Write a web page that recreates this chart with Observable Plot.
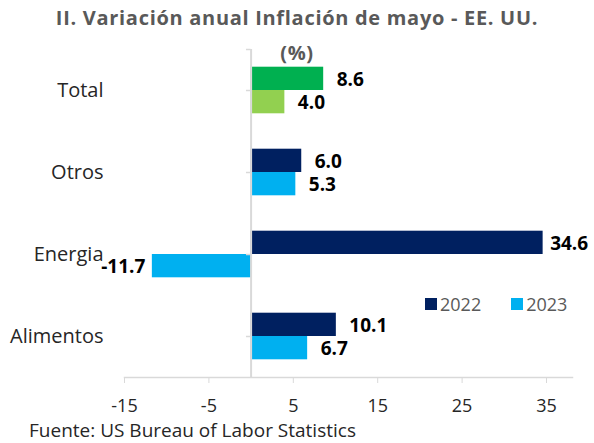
<!DOCTYPE html>
<html>
<head>
<meta charset="utf-8">
<script src="https://cdn.jsdelivr.net/npm/d3@7"></script>
<script src="https://cdn.jsdelivr.net/npm/@observablehq/plot@0.6"></script>
<style>
  html, body { margin: 0; padding: 0; background: #fff; }
  #wrap { position: relative; width: 594px; height: 443px; font-family: "Open Sans", Lato, sans-serif; overflow: hidden; }
  #chart { position: absolute; left: 0; top: 0; }
  .title { position: absolute; left: 0; width: 594px; text-align: center; font-weight: bold; font-size: 20px; color: #595959; white-space: nowrap; letter-spacing: 0.7px; line-height: 1; }
  #legend { position: absolute; left: 425px; top: 295px; display: flex; align-items: center; font-size: 18px; color: #595959; line-height: 1; }
  #legend .sw { width: 12px; height: 12px; display: inline-block; margin-right: 3px; }
  #legend .item { display: flex; align-items: center; margin-right: 30px; }
  #footer { position: absolute; left: 29px; top: 421px; font-size: 19px; color: #262626; white-space: nowrap; line-height: 1; }
</style>
</head>
<body>
<div id="wrap">
  <div id="chart"></div>
  <div class="title" id="t1" style="top:8px">II. Variación anual Inflación de mayo - EE. UU.</div>
  <div class="title" id="t2" style="top:43px">(%)</div>
  <div id="legend"></div>
  <div id="footer">Fuente: US Bureau of Labor Statistics</div>
</div>
<script>
// ---- data ----
const categories = ["Total", "Otros", "Energia", "Alimentos"];
const years = ["2022", "2023"];
const values2022 = [8.6, 6.0, 34.6, 10.1];
const values2023 = [4.0, 5.3, -11.7, 6.7];
const xTicks = [-15, -5, 5, 15, 25, 35];

// ---- styles ----
const seriesColors = {"2022": "#002060", "2023": "#00B0F0"};
const totalColors = {"2022": "#00B050", "2023": "#92D050"};
const axisGray = "#d9d9d9";

const W = 594, H = 443, mt = 49, mb = 66, ml = 124, mr = 22;
const step = (H - mt - mb) / categories.length;
const barH = 23.3;

const rows = categories.flatMap((c, i) => [
  {category: c, year: "2022", value: values2022[i]},
  {category: c, year: "2023", value: values2023[i]}
]);
const fillOf = d => (d.category === "Total" ? totalColors : seriesColors)[d.year];

const insets = {
  "2022": {insetTop: step / 2 - barH, insetBottom: step / 2},
  "2023": {insetTop: step / 2, insetBottom: step / 2 - barH}
};
const offs = {"2022": -barH / 2, "2023": barH / 2};

const labelStyle = {fontSize: 19, fontWeight: "bold", fill: "#000"};

const marks = [
  Plot.frame({anchor: "bottom", stroke: axisGray, strokeWidth: 1.5}),
  Plot.axisX({ticks: xTicks, tickSize: 6, tickPadding: 16, fontSize: 18, stroke: axisGray, tickFormat: d => String(d), label: null}),
  Plot.axisY({tickSize: 0, tickPadding: 21, fontSize: 20, label: null}),
];
for (const yr of years) {
  const sub = rows.filter(d => d.year === yr);
  marks.push(Plot.barX(sub, {x: "value", y: "category", fill: fillOf, ...insets[yr]}));
}
marks.push(
  Plot.ruleX([0], {stroke: axisGray, strokeWidth: 2}),
  Plot.ruleY(categories, {y: d => d, x1: 0, x2: -0.55, stroke: axisGray, strokeWidth: 1.5}),
  Plot.ruleY([categories[0]], {y: d => d, x1: 0, x2: -0.55, dy: -step / 2, stroke: axisGray, strokeWidth: 1.5})
);
for (const yr of years) {
  const sub = rows.filter(d => d.year === yr);
  marks.push(
    Plot.text(sub.filter(d => d.value >= 0 && d.value < 30), {x: "value", y: "category", text: d => d.value.toFixed(1), dx: 13, dy: offs[yr] + 1, textAnchor: "start", ...labelStyle}),
    Plot.text(sub.filter(d => d.value >= 30), {x: "value", y: "category", text: d => d.value.toFixed(1), dx: 7, dy: offs[yr] + 1, textAnchor: "start", ...labelStyle}),
    Plot.text(sub.filter(d => d.value < 0), {x: "value", y: "category", text: d => d.value.toFixed(1), dx: -7, dy: offs[yr] + 1, textAnchor: "end", ...labelStyle})
  );
}

const chart = Plot.plot({
  width: W, height: H,
  marginTop: mt, marginBottom: mb, marginLeft: ml, marginRight: mr,
  style: {fontFamily: "'Open Sans', Lato, sans-serif", color: "#262626", background: "transparent", overflow: "visible"},
  x: {domain: [-15, 38.08]},
  y: {type: "band", domain: categories, padding: 0},
  marks
});
document.getElementById("chart").appendChild(chart);

// legend
const legend = document.getElementById("legend");
for (const yr of years) {
  const item = document.createElement("div");
  item.className = "item";
  const sw = document.createElement("span");
  sw.className = "sw";
  sw.style.background = seriesColors[yr];
  const tx = document.createElement("span");
  tx.textContent = yr;
  item.appendChild(sw);
  item.appendChild(tx);
  legend.appendChild(item);
}
</script>
</body>
</html>
